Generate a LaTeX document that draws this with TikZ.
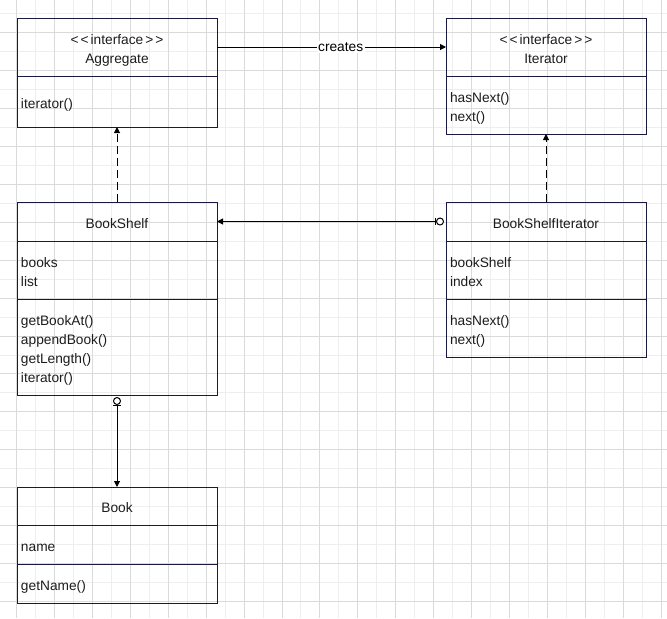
\documentclass[tikz,border=0pt]{standalone}
\usepackage{fontspec}
\setmainfont{Liberation Sans}
\usetikzlibrary{positioning,arrows.meta}
\definecolor{boxline}{RGB}{24,24,64}
\definecolor{gridmajor}{RGB}{218,218,218}
\definecolor{gridminor}{RGB}{238,238,238}
\definecolor{inktext}{RGB}{28,28,28}
\begin{document}
\begin{tikzpicture} [x = 0.75pt, y = -0.75pt,
  font = \fontsize{10.3}{14.25}\selectfont,
  part/.style = {draw = boxline, line width = 0.75pt, inner xsep = 3pt, inner ysep = 0pt, outer sep = 0pt,
    text width = 144pt, align = left, text = inktext,
    execute at begin node = \rule{0pt}{13.2pt}, execute at end node = \rule[-3pt]{0pt}{0pt}},
  head/.style = {part, align = center, anchor = north west},
  assoc/.style = {line width = 0.75pt, -{Triangle[length = 4.5pt, width = 4.5pt]}},
  realize/.style = {assoc, dash pattern = on 6pt off 3pt},
  zeroone/.style = {assoc, {Circle[open, length = 6pt, width = 6pt, fill = white, sep = 1.5pt] Bar[width = 5.5pt]}-{Triangle[length = 4.5pt, width = 4.5pt]}}]
\useasboundingbox (0, 0) rectangle (667, 618);
\draw[gridminor, line width = 0.6pt, step = 14.2125pt, shift = {(16.6, 13.8)}] (-16.6, -13.8) grid (650.4, 604.2); %minor grid
\draw[gridmajor, line width = 0.6pt, step = 28.425pt, shift = {(16.6, 32.7)}] (-16.6, -32.7) grid (650.4, 585.3); %major grid
% Aggregate
\node[head, minimum height = 43.5pt] (AggregateHead) at (17, 18) {<\kern1.5pt<\kern1.5pt interface\kern1.5pt>\kern1.5pt>\\Aggregate};
\node[part, minimum height = 38.25pt, below = 0pt of AggregateHead] (AggregateBody) {iterator()};
% Iterator
\node[head, minimum height = 43.5pt] (IteratorHead) at (446, 18) {<\kern1.5pt<\kern1.5pt interface\kern1.5pt>\kern1.5pt>\\Iterator};
\node[part, minimum height = 43.5pt, below = 0pt of IteratorHead] (IteratorBody) {hasNext()\\next()};
% BookShelf
\node[head, minimum height = 29.25pt] (BookShelfHead) at (17, 202) {BookShelf};
\node[part, minimum height = 43.5pt, below = 0pt of BookShelfHead] (BookShelfAttrs) {books\\list};
\node[part, minimum height = 72pt, below = 0pt of BookShelfAttrs] (BookShelfOps) {getBookAt()\\appendBook()\\getLength()\\iterator()};
% BookShelfIterator
\node[head, minimum height = 29.25pt] (BookShelfIteratorHead) at (446, 202) {BookShelfIterator};
\node[part, minimum height = 43.5pt, below = 0pt of BookShelfIteratorHead] (BookShelfIteratorAttrs) {bookShelf\\index};
\node[part, minimum height = 43.5pt, below = 0pt of BookShelfIteratorAttrs] (BookShelfIteratorOps) {hasNext()\\next()};
% Book
\node[head, minimum height = 28.5pt] (BookHead) at (17, 487) {Book};
\node[part, minimum height = 29.25pt, below = 0pt of BookHead] (BookAttrs) {name};
\node[part, minimum height = 29.25pt, below = 0pt of BookAttrs] (BookOps) {getName()};
\draw[assoc] (AggregateHead) -- node[fill = white, inner sep = 1pt, pos = 0.54] {creates} (IteratorHead); %creates
\draw[realize] (BookShelfHead) -- (AggregateBody); %BookShelf to Aggregate
\draw[realize] (BookShelfIteratorHead) -- (IteratorBody); %BookShelfIterator to Iterator
\draw[zeroone] (BookShelfIteratorHead) -- (BookShelfHead); %bookShelf field
\draw[zeroone] (BookShelfOps) -- (BookHead); %books field
\end{tikzpicture}
\end{document}
